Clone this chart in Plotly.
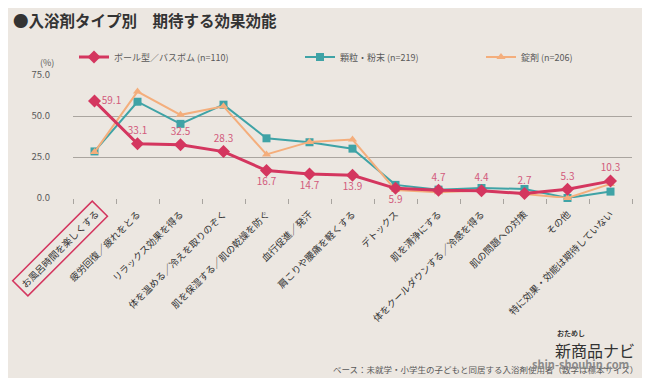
import plotly.graph_objects as go

categories = [
    "お風呂時間を楽しくする",
    "疲労回復／疲れをとる",
    "リラックス効果を得る",
    "体を温める／冷えを取りのぞく",
    "肌を保湿する／肌の乾燥を防ぐ",
    "血行促進／発汗",
    "肩こりや腰痛を軽くする",
    "デトックス",
    "肌を清浄にする",
    "体をクールダウンする／冷感を得る",
    "肌の問題への対策",
    "その他",
    "特に効果・効能は期待していない",
]
ball_values = [59.1, 33.1, 32.5, 28.3, 16.7, 14.7, 13.9, 5.9, 4.7, 4.4, 2.7, 5.3, 10.3]
granule_values = [28.4, 58.7, 45.2, 56.9, 36.4, 34.0, 30.1, 8.0, 5.1, 6.1, 5.5, 0.0, 3.9]
tablet_values = [28.0, 64.9, 50.7, 55.9, 26.6, 34.2, 35.6, 4.9, 3.5, 4.6, 2.5, 0.0, 8.6]
series_names = ["ボール型／バスボム (n=110)", "顆粒・粉末 (n=219)", "錠剤 (n=206)"]
y_ticks = [0, 25, 50, 75]

FONT = "Noto Sans CJK JP"
RED = "#d4365f"
TEAL = "#3fa3a6"
ORANGE = "#f4ae7c"
LABEL = "#d25a7c"
GRAY = "#595959"
BG = "#ece7e1"

# page body adds an 8px offset; compensate so positions match the reference
OFF = 8
W, H = 650, 378
PL, PT, PR, PB = 73 - OFF, 75 - OFF, 632 - OFF, 198 - OFF
PW, PH = PR - PL, PB - PT


def px_x(x):
    return (x - OFF - PL) / PW


def px_y(y):
    return 1 - (y - OFF - PT) / PH


label_pos = ["middle right", "top center", "top center", "top center", "bottom center",
             "bottom center", "bottom center", "bottom center", "top center", "top center",
             "top center", "top center", "top center"]

fig = go.Figure()
fig.add_trace(go.Scatter(
    x=categories, y=granule_values, name=series_names[1], mode="lines+markers",
    line=dict(color=TEAL, width=2), marker=dict(symbol="square", size=8, color=TEAL),
    legend="legend2", cliponaxis=False,
))
fig.add_trace(go.Scatter(
    x=categories, y=tablet_values, name=series_names[2], mode="lines+markers",
    line=dict(color=ORANGE, width=2), marker=dict(symbol="triangle-up", size=8, color=ORANGE),
    legend="legend3", cliponaxis=False,
))
fig.add_trace(go.Scatter(
    x=categories, y=ball_values, name=series_names[0], mode="lines+markers+text",
    line=dict(color=RED, width=3), marker=dict(symbol="diamond", size=10, color=RED),
    text=[f"{v:.1f}" for v in ball_values], textposition=label_pos,
    textfont=dict(color=LABEL, size=10, family=FONT),
    legend="legend", cliponaxis=False,
))

ticktext = [""] + categories[1:]

fig.update_xaxes(
    type="category", range=[-0.5, len(categories) - 0.5], automargin=False,
    tickmode="array", tickvals=categories, ticktext=ticktext,
    tickangle=-45, tickfont=dict(size=9.5, color="#333333", family=FONT),
    showgrid=False, showline=False, zeroline=False,
    ticks="outside", tickson="boundaries", ticklen=5, tickcolor="#a8a49f",
    ticklabelstandoff=8,
)
fig.update_yaxes(
    range=[0, 75], tickvals=y_ticks, ticktext=[f"{v:.1f}" for v in y_ticks],
    automargin=False,
    tickfont=dict(size=9.5, color=GRAY, family=FONT),
    showgrid=True, gridcolor="#aaa59f", gridwidth=1, zeroline=False, showline=False,
    ticks="", ticklabelstandoff=22,
)

legend_common = dict(orientation="h", xref="container", yref="container",
                     yanchor="middle", font=dict(size=9, color=GRAY, family=FONT),
                     bgcolor="rgba(0,0,0,0)", itemwidth=30)
ly = 1 - (57 - OFF) / H
fig.update_layout(
    width=W, height=H,
    margin=dict(l=PL, r=W - PR, t=PT, b=H - PB),
    paper_bgcolor=BG, plot_bgcolor=BG,
    font=dict(family=FONT, color=GRAY),
    showlegend=True,
    legend=dict(x=(80 - OFF - 6) / W, y=ly, **legend_common),
    legend2=dict(x=(301 - OFF - 1) / W, y=ly, **legend_common),
    legend3=dict(x=(482 - OFF - 1) / W, y=ly, **legend_common),
)

fig.add_annotation(
    text="<b>●入浴剤タイプ別　期待する効果効能</b>", xref="paper", yref="paper",
    x=px_x(11), y=px_y(20), xanchor="left", yanchor="middle", showarrow=False,
    font=dict(size=15.5, color="#333333", family=FONT),
)
fig.add_annotation(
    text="(%)", xref="paper", yref="paper", x=px_x(47), y=px_y(63),
    xanchor="center", yanchor="middle", showarrow=False,
    font=dict(size=9, color=GRAY, family=FONT),
)
fig.add_annotation(
    text=categories[0], xref="x", yref="y", x=categories[0], y=0,
    xanchor="right", yanchor="top", showarrow=False, textangle=-45,
    xshift=14, yshift=-2,
    font=dict(size=9.5, color="#333333", family=FONT),
    bordercolor=RED, borderwidth=1.5, borderpad=3,
)
fig.add_annotation(
    text="ベース：未就学・小学生の子どもと同居する入浴剤使用者（数字は標本サイズ）",
    xref="paper", yref="paper", x=px_x(640), y=px_y(369), xanchor="right", yanchor="middle",
    showarrow=False, font=dict(size=8.5, color=GRAY, family=FONT),
)
fig.add_annotation(
    text="<b>おためし</b>", xref="paper", yref="paper", x=px_x(555), y=px_y(333),
    xanchor="left", yanchor="middle", showarrow=False,
    font=dict(size=7, color="#333333", family=FONT),
)
fig.add_annotation(
    text="新商品ナビ", xref="paper", yref="paper", x=px_x(553), y=px_y(350),
    xanchor="left", yanchor="middle", showarrow=False,
    font=dict(size=16, color="#333333", family=FONT),
)
fig.add_annotation(
    text="<b>shin-shouhin.com</b>", xref="paper", yref="paper", x=px_x(580),
    y=px_y(364), xanchor="center", yanchor="middle", showarrow=False,
    font=dict(size=11, color="#8a8a8a", family=FONT),
)

fig.write_html("out.html")
